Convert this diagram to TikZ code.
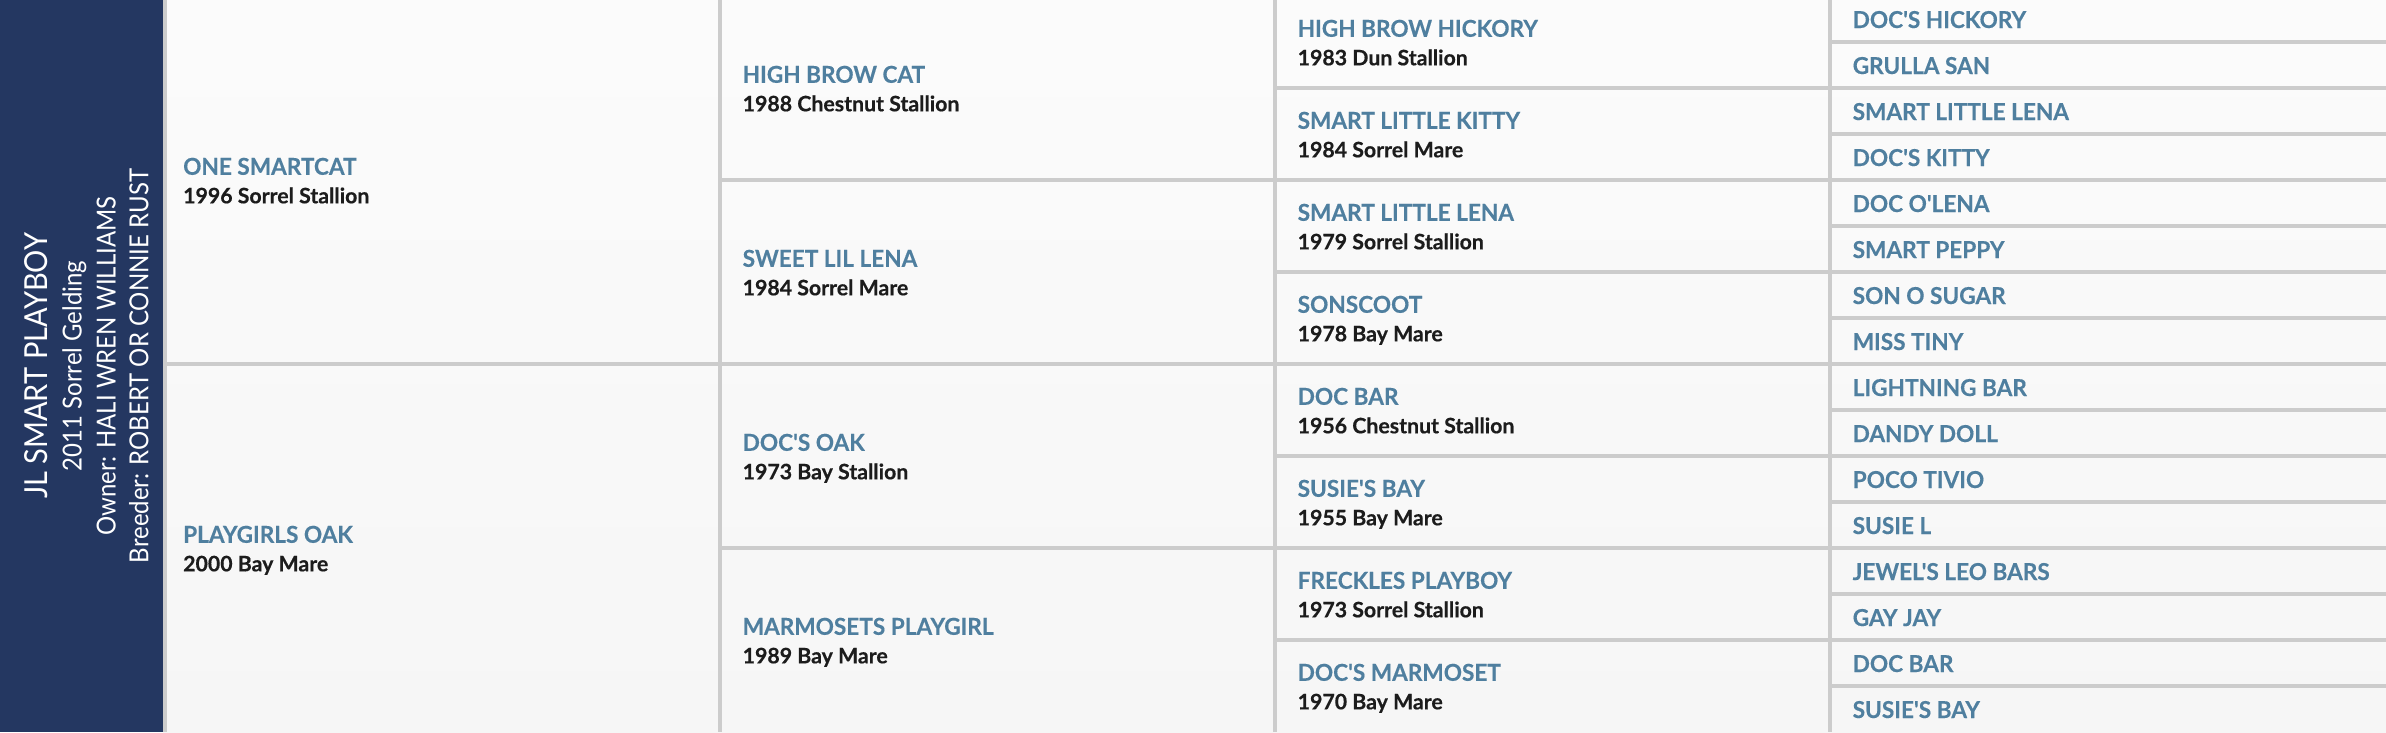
\documentclass[tikz,border=0pt]{standalone}
\usepackage{fontspec}
\setmainfont{Lato}
\newfontfamily\namefont{Lato}[FakeStretch=0.97, FakeBold=0.3]
\newfontfamily\subfont{Lato}[FakeBold=0.45]
\newfontfamily\titlefont{Lato}[FakeStretch=0.915]
\definecolor{navy}{HTML}{243761}
\definecolor{gridc}{HTML}{CCCCCC}
\definecolor{namec}{HTML}{4F7F9F}
\definecolor{subc}{HTML}{1C1C1C}
\tikzset{
  hname/.style={anchor=base west, inner sep=0pt, text=namec, font=\namefont\bfseries\fontsize{23.3}{28}\selectfont},
  hsub/.style={anchor=base west, inner sep=0pt, text=subc, font=\subfont\bfseries\fontsize{21.3}{26}\selectfont},
  gridline/.style={draw=gridc, line width=4pt},
  ttl/.style={rotate=90, anchor=base, inner sep=0pt, text=white, font=\titlefont\fontsize{26.2}{30}\selectfont},
  ttlbig/.style={ttl, font=\titlefont\fontsize{31.7}{34}\selectfont}
}
\newcommand\horse[5]{%
  \node[hname] (#1) at (#2,#3-5.2) {#4};
  \node[hsub] (#1-d) at (#2,#3+23.3) {#5};}
\newcommand\anc[4]{\node[hname] (#1) at (#2,#3+9) {#4};}
\begin{document}
\begin{tikzpicture}[x=1pt,y=-1pt]
\useasboundingbox (0,0) rectangle (2386,732);
% background
\shade[top color=white!98.5!black, bottom color=white!96.5!black] (163,0) rectangle (2386,732);
\fill[navy] (0,0) rectangle (163,732);
% grid: vertical lines
\draw[gridline] (165,0) -- (165,732);
\draw[gridline] (720,0) -- (720,732);
\draw[gridline] (1275,0) -- (1275,732);
\draw[gridline] (1829.5,0) -- (1829.5,732);
% col 1
\draw[gridline] (165,364) -- (720,364);
% col 2
\foreach \yy in {180,364,548} \draw[gridline] (720,\yy) -- (1275,\yy);
% col 3
\foreach \yy in {88,180,272,364,456,548,640} \draw[gridline] (1275,\yy) -- (1829.5,\yy);
% col 4
\foreach \k in {1,...,15} \draw[gridline] (1829.5,-4+46*\k) -- (2386,-4+46*\k);
% title
\node[ttlbig] (title) at (47.7,366) {JL SMART PLAYBOY};
\node[ttl] (year) at (81.7,366) {2011 Sorrel Gelding};
\node[ttl] (owner) at (115.7,366) {Owner: HALI WREN WILLIAMS};
\node[ttl] (breeder) at (148.3,366) {Breeder: ROBERT OR CONNIE RUST};
% generation 1
\horse{s}{183}{180}{ONE SMARTCAT}{1996 Sorrel Stallion}
\horse{d}{183}{548}{PLAYGIRLS OAK}{2000 Bay Mare}
% generation 2
\horse{ss}{742.5}{88}{HIGH BROW CAT}{1988 Chestnut Stallion}
\horse{sd}{742.5}{272}{SWEET LIL LENA}{1984 Sorrel Mare}
\horse{ds}{742.5}{456}{DOC'S OAK}{1973 Bay Stallion}
\horse{dd}{742.5}{640}{MARMOSETS PLAYGIRL}{1989 Bay Mare}
% generation 3
\horse{sss}{1297.5}{42}{HIGH BROW HICKORY}{1983 Dun Stallion}
\horse{ssd}{1297.5}{134}{SMART LITTLE KITTY}{1984 Sorrel Mare}
\horse{sds}{1297.5}{226}{SMART LITTLE LENA}{1979 Sorrel Stallion}
\horse{sdd}{1297.5}{318}{SONSCOOT}{1978 Bay Mare}
\horse{dss}{1297.5}{410}{DOC BAR}{1956 Chestnut Stallion}
\horse{dsd}{1297.5}{502}{SUSIE'S BAY}{1955 Bay Mare}
\horse{dds}{1297.5}{594}{FRECKLES PLAYBOY}{1973 Sorrel Stallion}
\horse{ddd}{1297.5}{686}{DOC'S MARMOSET}{1970 Bay Mare}
% generation 4
\anc{ssss}{1852.5}{19}{DOC'S HICKORY}
\anc{sssd}{1852.5}{65}{GRULLA SAN}
\anc{ssds}{1852.5}{111}{SMART LITTLE LENA}
\anc{ssdd}{1852.5}{157}{DOC'S KITTY}
\anc{sdss}{1852.5}{203}{DOC O'LENA}
\anc{sdsd}{1852.5}{249}{SMART PEPPY}
\anc{sdds}{1852.5}{295}{SON O SUGAR}
\anc{sddd}{1852.5}{341}{MISS TINY}
\anc{dsss}{1852.5}{387}{LIGHTNING BAR}
\anc{dssd}{1852.5}{433}{DANDY DOLL}
\anc{dsds}{1852.5}{479}{POCO TIVIO}
\anc{dsdd}{1852.5}{525}{SUSIE L}
\anc{ddss}{1852.5}{571}{JEWEL'S LEO BARS}
\anc{ddsd}{1852.5}{617}{GAY JAY}
\anc{ddds}{1852.5}{663}{DOC BAR}
\anc{dddd}{1852.5}{709}{SUSIE'S BAY}
\end{tikzpicture}
\end{document}
